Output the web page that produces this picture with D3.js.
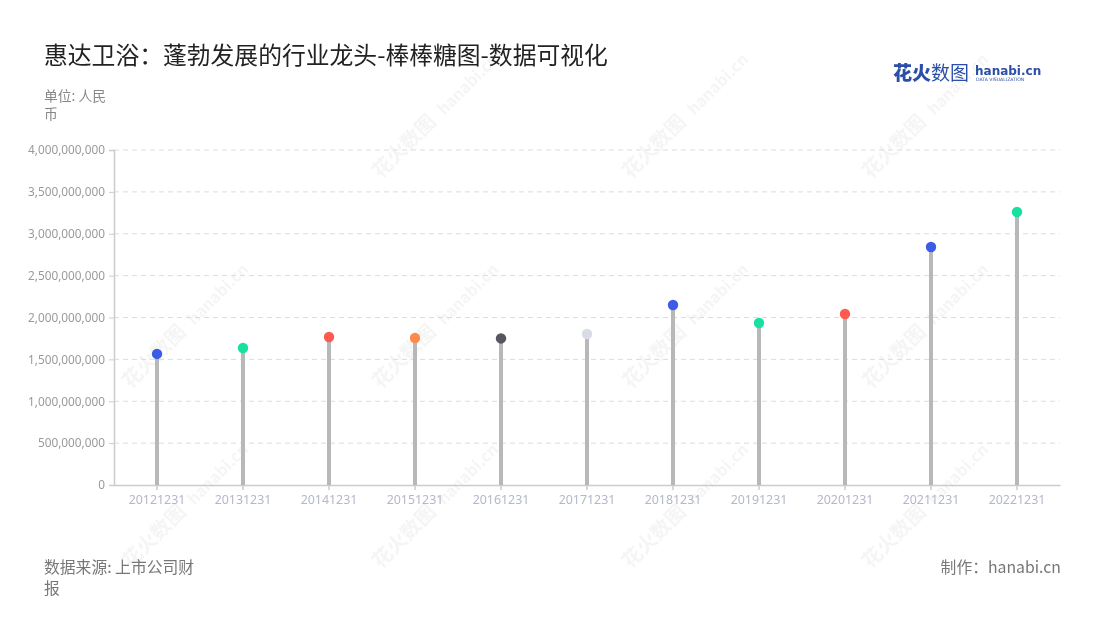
<!DOCTYPE html>
<html><head><meta charset="utf-8">
<script src="https://cdn.jsdelivr.net/npm/d3@7"></script>
<style>body{margin:0;background:#fff;}svg{display:block;font-family:"Noto Sans CJK SC","Noto Sans",sans-serif;}</style>
</head><body><svg id="c" width="1100" height="620"></svg>
<script>
const categories = ["20121231","20131231","20141231","20151231","20161231","20171231","20181231","20191231","20201231","20211231","20221231"];
const values = [1565000000,1636000000,1767000000,1755000000,1750000000,1803000000,2149000000,1934000000,2042000000,2842000000,3260000000];
const dotColors = ["#3b5be8","#17e0a0","#ff5a52","#ff8a4c","#55565f","#d8dce6","#3b5be8","#17e0a0","#ff5a52","#3b5be8","#17e0a0"];
const yTicks = [0,500000000,1000000000,1500000000,2000000000,2500000000,3000000000,3500000000,4000000000];

(function(){
const svg = d3.select("#c");
const pLeft = 114, pRight = 1060, pTop = 150, pBottom = 485;

// watermarks
const wm = svg.append("g").attr("opacity",0.06).attr("fill","#555");
const wmPos = [[430,130],[680,130],[920,130],[180,340],[430,340],[680,340],[920,340],[180,520],[430,520],[680,520],[920,520]];
wmPos.forEach(([x,y])=>{
  const g = wm.append("g").attr("transform",`translate(${x},${y}) rotate(-45)`);
  g.append("text").attr("x",-70).attr("y",0).attr("font-size",20).attr("font-weight",700).text("花火数图");
  g.append("text").attr("x",20).attr("y",0).attr("font-size",16).attr("font-weight",700).text("hanabi.cn");
});

const x = d3.scaleBand().domain(categories).range([pLeft,pRight]).padding(0);
const y = d3.scaleLinear().domain([0,4000000000]).range([pBottom,pTop]);

// grid
svg.append("g").selectAll("line").data(yTicks.filter(d=>d>0)).join("line")
  .attr("x1",pLeft).attr("x2",pRight).attr("y1",d=>y(d)).attr("y2",d=>y(d))
  .attr("stroke","#dcdcdc").attr("stroke-dasharray","5,4").attr("stroke-width",1);

// y axis
const ya = svg.append("g").attr("transform",`translate(${pLeft},0)`)
  .call(d3.axisLeft(y).tickValues(yTicks).tickFormat(d3.format(",")).tickSize(5).tickPadding(4));
ya.select(".domain").attr("stroke","#cccccc").attr("stroke-width",1.5);
ya.selectAll(".tick line").attr("stroke","#cccccc");
ya.selectAll(".tick text").attr("fill","#9a9a9a").attr("font-size",11.8).attr("font-family","'Noto Sans',sans-serif");

// x axis
const xa = svg.append("g").attr("transform",`translate(0,${pBottom})`)
  .call(d3.axisBottom(x).tickSize(5).tickPadding(5).tickSizeOuter(0));
xa.select(".domain").attr("stroke","#cccccc").attr("stroke-width",1.5);
xa.selectAll(".tick line").attr("stroke","#cccccc").attr("stroke-width",1.5);
xa.selectAll(".tick text").attr("fill","#b3b8c8").attr("font-size",12.4).attr("font-family","'Noto Sans',sans-serif");

// stems
const cx = d => x(d) + x.bandwidth()/2;
svg.append("g").selectAll("line").data(categories).join("line")
  .attr("x1",cx).attr("x2",cx).attr("y1",y(0)).attr("y2",(d,i)=>y(values[i]))
  .attr("stroke","#b8b8b8").attr("stroke-width",4);
// dots
svg.append("g").selectAll("circle").data(categories).join("circle")
  .attr("cx",cx).attr("cy",(d,i)=>y(values[i])).attr("r",5.2)
  .attr("fill",(d,i)=>dotColors[i]);

// title
svg.append("text").attr("x",44).attr("y",64).attr("font-size",23.8).attr("fill","#222").text("惠达卫浴：蓬勃发展的行业龙头-棒棒糖图-数据可视化");
svg.append("text").attr("x",44).attr("y",101).attr("font-size",13.8).attr("fill","#888").text("单位: 人民");
svg.append("text").attr("x",44).attr("y",119).attr("font-size",13.8).attr("fill","#888").text("币");

// logo
const lg = svg.append("g");
lg.append("text").attr("x",893).attr("y",80).attr("font-size",19).attr("font-weight",900).attr("fill","#2b4fa8").text("花火");
lg.append("text").attr("x",931).attr("y",80).attr("font-size",19).attr("fill","#2b4fa8").text("数图");
lg.append("text").attr("x",975).attr("y",75).attr("font-size",12).attr("font-weight",700).attr("fill","#2b4fa8").attr("font-family","'DejaVu Sans',sans-serif").text("hanabi.cn");
lg.append("text").attr("x",976).attr("y",81).attr("font-size",4.6).attr("fill","#2b4fa8").attr("font-family","'DejaVu Sans',sans-serif").text("DATA VISUALIZATION");

// footer
svg.append("text").attr("x",44).attr("y",573).attr("font-size",15.8).attr("fill","#777").text("数据来源: 上市公司财");
svg.append("text").attr("x",44).attr("y",594).attr("font-size",15.8).attr("fill","#777").text("报");
svg.append("text").attr("x",1061).attr("y",573).attr("font-size",15.8).attr("fill","#777").attr("text-anchor","end").text("制作：hanabi.cn");
})();
</script></body></html>
